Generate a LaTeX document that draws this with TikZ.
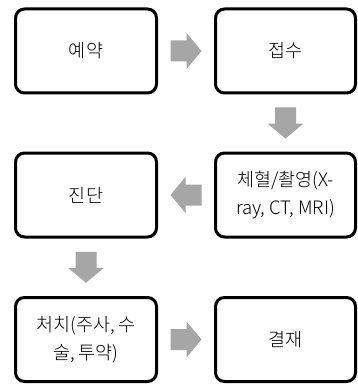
\documentclass[tikz,border=0pt]{standalone}
\usepackage{fontspec}
\setmainfont{Noto Sans CJK KR}[UprightFont=* Light]
\usetikzlibrary{calc}
\tikzset{
  box/.style={draw=black, line width=3pt, rounded corners=9pt, fill=white,
    minimum width=141pt, minimum height=84pt, inner sep=2pt, align=center,
    font=\fontsize{18.5}{28}\selectfont},
  blockarrow/.pic={
    \fill[arrowgray] (-15.5,-10.5) -- (0.5,-10.5) -- (0.5,-18) -- (15.5,0)
      -- (0.5,18) -- (0.5,10.5) -- (-15.5,10.5) -- cycle;
  }
}
\definecolor{arrowgray}{HTML}{A6A6A6}
\begin{document}
\begin{tikzpicture}[x=1pt,y=-1pt]
\useasboundingbox (0,0) rectangle (357,385);
\node[box] (a) at (86,51) {예약};
\node[box, minimum width=140pt] (b) at (285.5,51) {접수};
\node[box, minimum width=140pt] (c) at (285.5,195) {체혈/촬영(X-\\ray, CT, MRI)};
\node[box] (d) at (86,195) {진단};
\node[box] (e) at (86,339.5) {처치(주사, 수\\술, 투약)};
\node[box, minimum width=140pt] (f) at (285.5,339.5) {결재};
\pic at ($(a.east)!0.5!(b.west)$) {blockarrow};
\pic[rotate=-90] at ($(b.south)!0.5!(c.north)$) {blockarrow};
\pic[rotate=180] at ($(c.west)!0.5!(d.east)$) {blockarrow};
\pic[rotate=-90] at ($(d.south)!0.5!(e.north)$) {blockarrow};
\pic at ($(e.east)!0.5!(f.west)$) {blockarrow};
\end{tikzpicture}
\end{document}
